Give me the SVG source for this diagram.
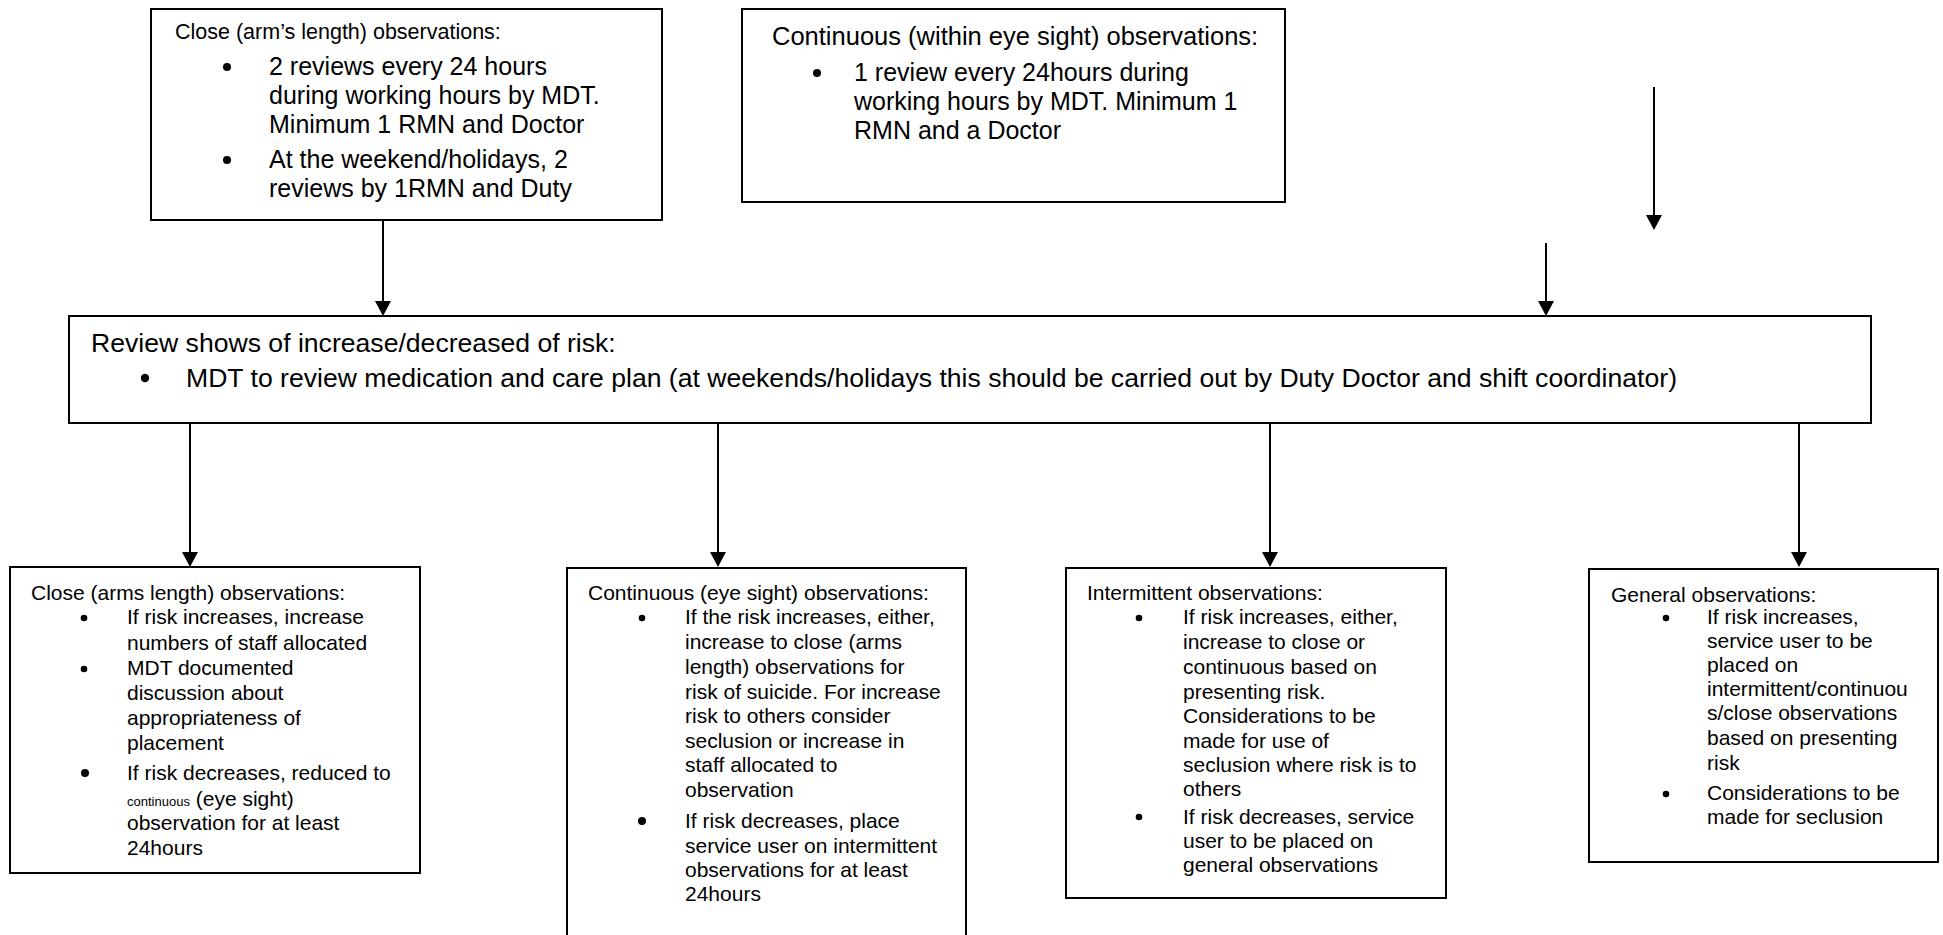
<svg xmlns="http://www.w3.org/2000/svg" width="1943" height="935" viewBox="0 0 1943 935">
<style>
text{font-family:"Liberation Sans",Arial,sans-serif;fill:#000}
.box{fill:#fff;stroke:#000;stroke-width:2}
.t{font-size:25px}
.h1{font-size:21.5px}
.h2{font-size:25.5px}
.r{font-size:26.6px}
.s{font-size:21px}
.sm{font-size:13px}
.dot{fill:#000}
.edge{stroke:#000;stroke-width:2;fill:none;marker-end:url(#ah)}
</style>
<defs>
<marker id="ah" viewBox="0 0 15 16" refX="11" refY="8" markerWidth="15" markerHeight="16" markerUnits="userSpaceOnUse" orient="auto">
<path d="M0,0 L15,8 L0,16 z" fill="#000"/>
</marker>
</defs>
<rect width="1943" height="935" fill="#fff"/>
<g id="connectors">
<path class="edge" d="M383,221 V312"/>
<path class="edge" d="M1654,87 V226"/>
<path class="edge" d="M1546,243 V312"/>
<path class="edge" d="M190,424 V563"/>
<path class="edge" d="M718,424 V563"/>
<path class="edge" d="M1270,424 V563"/>
<path class="edge" d="M1799,424 V563"/>
</g>
<g id="close-review">
<rect class="box" x="151" y="9" width="511" height="211"/>
<text class="h1" x="175" y="39">Close (arm’s length) observations:</text>
<circle class="dot" cx="227" cy="67" r="4"/>
<text class="t" x="269" y="75">2 reviews every 24 hours</text>
<text class="t" x="269" y="104">during working hours by MDT.</text>
<text class="t" x="269" y="133">Minimum 1 RMN and Doctor</text>
<circle class="dot" cx="227" cy="160" r="4"/>
<text class="t" x="269" y="168">At the weekend/holidays, 2</text>
<text class="t" x="269" y="197">reviews by 1RMN and Duty</text>
</g>
<g id="continuous-review">
<rect class="box" x="742" y="9" width="543" height="193"/>
<text class="h2" x="772" y="45">Continuous (within eye sight) observations:</text>
<circle class="dot" cx="817" cy="73" r="4"/>
<text class="t" x="854" y="81">1 review every 24hours during</text>
<text class="t" x="854" y="110">working hours by MDT. Minimum 1</text>
<text class="t" x="854" y="139">RMN and a Doctor</text>
</g>
<g id="review-risk">
<rect class="box" x="69" y="316" width="1802" height="107"/>
<text class="r" x="91" y="352">Review shows of increase/decreased of risk:</text>
<circle class="dot" cx="145" cy="378" r="4.2"/>
<text class="r" x="186" y="387">MDT to review medication and care plan (at weekends/holidays this should be carried out by Duty Doctor and shift coordinator)</text>
</g>
<g id="close-obs">
<rect class="box" x="10" y="567" width="410" height="306"/>
<text class="s" x="31" y="600">Close (arms length) observations:</text>
<circle class="dot" cx="84" cy="618" r="3.3"/>
<text class="s" x="127" y="624">If risk increases, increase</text>
<text class="s" x="127" y="650">numbers of staff allocated</text>
<circle class="dot" cx="84" cy="669" r="3.3"/>
<text class="s" x="127" y="675">MDT documented</text>
<text class="s" x="127" y="700">discussion about</text>
<text class="s" x="127" y="725">appropriateness of</text>
<text class="s" x="127" y="750">placement</text>
<circle class="dot" cx="85" cy="773" r="4"/>
<text class="s" x="127" y="780">If risk decreases, reduced to</text>
<text class="s" x="127" y="806"><tspan class="sm">continuous</tspan> (eye sight)</text>
<text class="s" x="127" y="830">observation for at least</text>
<text class="s" x="127" y="855">24hours</text>
</g>
<g id="continuous-obs">
<rect class="box" x="567" y="568" width="399" height="380"/>
<text class="s" x="588" y="600">Continuous (eye sight) observations:</text>
<circle class="dot" cx="642" cy="618" r="3.3"/>
<text class="s" x="685" y="624">If the risk increases, either,</text>
<text class="s" x="685" y="649">increase to close (arms</text>
<text class="s" x="685" y="674">length) observations for</text>
<text class="s" x="685" y="699">risk of suicide. For increase</text>
<text class="s" x="685" y="723">risk to others consider</text>
<text class="s" x="685" y="748">seclusion or increase in</text>
<text class="s" x="685" y="772">staff allocated to</text>
<text class="s" x="685" y="797">observation</text>
<circle class="dot" cx="642" cy="821" r="4"/>
<text class="s" x="685" y="828">If risk decreases, place</text>
<text class="s" x="685" y="853">service user on intermittent</text>
<text class="s" x="685" y="877">observations for at least</text>
<text class="s" x="685" y="901">24hours</text>
</g>
<g id="intermittent-obs">
<rect class="box" x="1066" y="568" width="380" height="330"/>
<text class="s" x="1087" y="600">Intermittent observations:</text>
<circle class="dot" cx="1139" cy="618" r="3.3"/>
<text class="s" x="1183" y="624">If risk increases, either,</text>
<text class="s" x="1183" y="649">increase to close or</text>
<text class="s" x="1183" y="674">continuous based on</text>
<text class="s" x="1183" y="699">presenting risk.</text>
<text class="s" x="1183" y="723">Considerations to be</text>
<text class="s" x="1183" y="748">made for use of</text>
<text class="s" x="1183" y="772">seclusion where risk is to</text>
<text class="s" x="1183" y="796">others</text>
<circle class="dot" cx="1139" cy="817" r="3.3"/>
<text class="s" x="1183" y="824">If risk decreases, service</text>
<text class="s" x="1183" y="848">user to be placed on</text>
<text class="s" x="1183" y="872">general observations</text>
</g>
<g id="general-obs">
<rect class="box" x="1589" y="569" width="349" height="293"/>
<text class="s" x="1611" y="602">General observations:</text>
<circle class="dot" cx="1666" cy="618" r="3.3"/>
<text class="s" x="1707" y="624">If risk increases,</text>
<text class="s" x="1707" y="648">service user to be</text>
<text class="s" x="1707" y="672">placed on</text>
<text class="s" x="1707" y="696">intermittent/continuou</text>
<text class="s" x="1707" y="720">s/close observations</text>
<text class="s" x="1707" y="745">based on presenting</text>
<text class="s" x="1707" y="770">risk</text>
<circle class="dot" cx="1666" cy="794" r="3.3"/>
<text class="s" x="1707" y="800">Considerations to be</text>
<text class="s" x="1707" y="824">made for seclusion</text>
</g>
</svg>
